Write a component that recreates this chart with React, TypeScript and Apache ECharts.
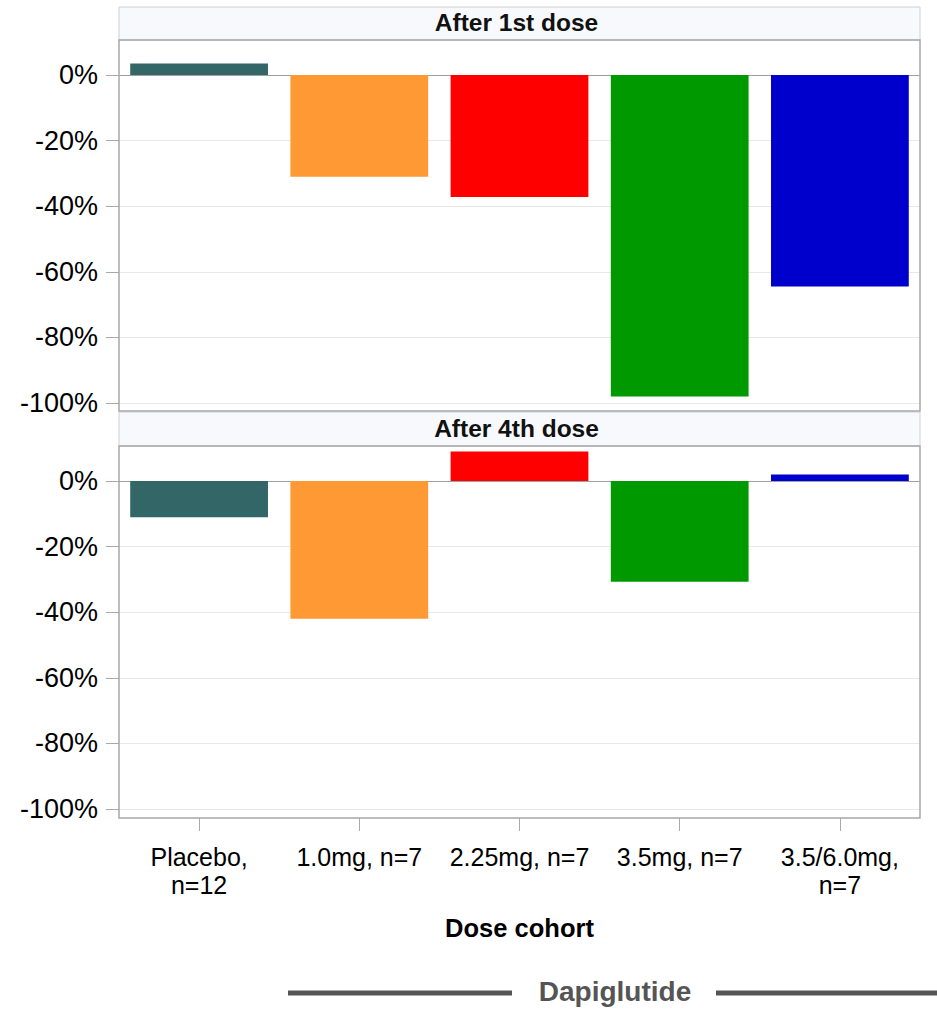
import React, { useEffect, useRef } from "react";
import * as echarts from "echarts";

const categories = ["Placebo,\nn=12", "1.0mg, n=7", "2.25mg, n=7", "3.5mg, n=7", "3.5/6.0mg,\nn=7"];
const colors = ["#336666", "#FF9933", "#FF0000", "#009900", "#0000CC"];
const afterFirst = [3.5, -31, -37.2, -98, -64.5];
const afterFourth = [-11, -42, 9, -30.7, 2];
const panelTitles = ["After 1st dose", "After 4th dose"];
const yTicks = [0, -20, -40, -60, -80, -100];
const axisTitle = "Dose cohort";
const groupLabel = "Dapiglutide";

const FONT = "'Liberation Sans', Arial, Helvetica, sans-serif";

export default function App() {
  const ref = useRef<HTMLDivElement>(null);
  useEffect(() => {
    document.body.style.margin = "0";
    if (!ref.current) return;
    const chart = echarts.init(ref.current, null, { renderer: "svg" });

    const L = 119, R = 920;
    const grids = [
      { left: L, top: 40, width: R - L, height: 363 },
      { left: L, top: 446, width: R - L, height: 363 },
    ];
    const yAxisBase = (gi: number) => ({
      type: "value",
      gridIndex: gi,
      min: -100,
      max: 10.7,
      interval: 20,
      axisLine: { show: false },
      axisTick: { show: true, length: 13, lineStyle: { color: "#AAAAAA" }, customValues: yTicks },
      axisLabel: {
        margin: 21,
        fontSize: 27,
        color: "#000",
        fontFamily: FONT,
        customValues: yTicks,
        formatter: (v: number) => `${Math.round(v)}%`,
      },
      splitLine: { show: true, lineStyle: { color: "#E8E8E8", width: 1 } },
    });
    const zeroAxis = (gi: number) => ({
      type: "category",
      gridIndex: gi,
      data: categories,
      axisLine: { show: true, onZero: true, lineStyle: { color: "#A0A0A0", width: 1 } },
      axisTick: { show: false },
      axisLabel: { show: false },
      splitLine: { show: false },
    });
    const barSeries = (gi: number, vals: number[]) => ({
      type: "bar",
      xAxisIndex: gi,
      yAxisIndex: gi,
      barCategoryGap: "14%",
      data: vals.map((v, i) => ({ value: v, itemStyle: { color: colors[i] } })),
    });

    const frameRects = [
      { y: 40, h: 371 },
      { y: 446, h: 372 },
    ];
    const headers = [
      { y: 7, h: 33 },
      { y: 412, h: 34 },
    ];

    const graphic: any[] = [];
    headers.forEach((h, i) => {
      graphic.push({
        type: "rect",
        shape: { x: L, y: h.y, width: R - L, height: h.h },
        style: { fill: "#F8F9FD", stroke: "#D0D0D0", lineWidth: 1 },
        silent: true,
      });
      graphic.push({
        type: "text",
        x: (L + R) / 2 - 3,
        y: h.y + h.h / 2 - 1,
        style: {
          text: panelTitles[i],
          fontSize: 24.5,
          fontWeight: "bold",
          fontFamily: FONT,
          fill: "#111",
          align: "center",
          verticalAlign: "middle",
        },
        silent: true,
      });
    });
    frameRects.forEach((f) => {
      graphic.push({
        type: "rect",
        shape: { x: L, y: f.y, width: R - L, height: f.h },
        style: { fill: "none", stroke: "#A8A8A8", lineWidth: 1.5 },
        silent: true,
        z: 10,
      });
    });
    graphic.push({
      type: "text",
      x: (L + R) / 2,
      y: 928,
      style: {
        text: axisTitle,
        fontSize: 25.5,
        fontWeight: "bold",
        fontFamily: FONT,
        fill: "#000",
        align: "center",
        verticalAlign: "middle",
      },
      silent: true,
    });
    graphic.push({
      type: "line",
      shape: { x1: 288, y1: 993, x2: 512, y2: 993 },
      style: { stroke: "#555555", lineWidth: 5 },
      silent: true,
    });
    graphic.push({
      type: "line",
      shape: { x1: 716, y1: 993, x2: 937, y2: 993 },
      style: { stroke: "#555555", lineWidth: 5 },
      silent: true,
    });
    graphic.push({
      type: "text",
      x: 615,
      y: 991,
      style: {
        text: groupLabel,
        fontSize: 28,
        fontWeight: "bold",
        fontFamily: FONT,
        fill: "#555555",
        align: "center",
        verticalAlign: "middle",
      },
      silent: true,
    });

    chart.setOption({
      animation: false,
      backgroundColor: "#FFFFFF",
      grid: grids,
      xAxis: [
        zeroAxis(0),
        zeroAxis(1),
        {
          type: "category",
          gridIndex: 1,
          position: "bottom",
          offset: 9,
          data: categories,
          axisLine: { show: false, onZero: false },
          axisTick: { show: true, alignWithLabel: true, length: 13, lineStyle: { color: "#AAAAAA" } },
          axisLabel: {
            margin: 25,
            fontSize: 25,
            lineHeight: 28,
            color: "#000",
            fontFamily: FONT,
            interval: 0,
          },
          splitLine: { show: false },
        },
      ],
      yAxis: [yAxisBase(0), yAxisBase(1)],
      series: [barSeries(0, afterFirst), barSeries(1, afterFourth)],
      graphic,
    });
    return () => chart.dispose();
  }, []);
  return <div ref={ref} style={{ width: 937, height: 1009 }} />;
}
